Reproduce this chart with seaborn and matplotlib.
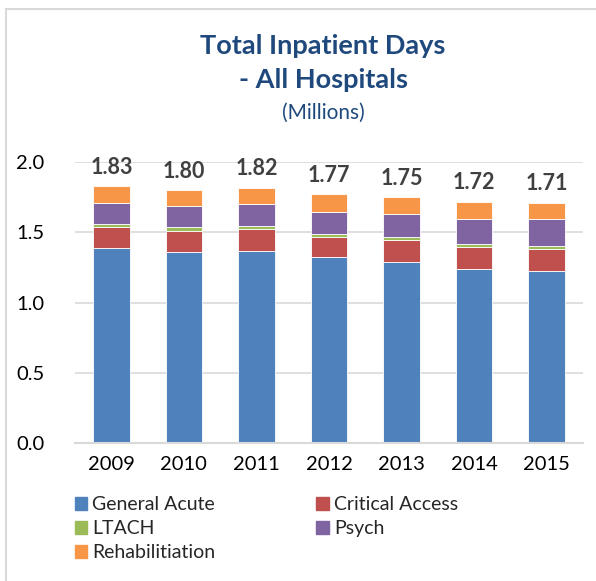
import numpy as np
import pandas as pd
import matplotlib
matplotlib.use('Agg')
import matplotlib.pyplot as plt
import matplotlib.patches as mpatches
import seaborn as sns

# --- Data (millions of inpatient days) ---
years = ['2009', '2010', '2011', '2012', '2013', '2014', '2015']
general_acute = [1.385, 1.357, 1.364, 1.321, 1.290, 1.238, 1.222]
critical_access = [0.155, 0.156, 0.157, 0.147, 0.155, 0.160, 0.156]
ltach = [0.020, 0.025, 0.021, 0.022, 0.019, 0.021, 0.028]
psych = [0.150, 0.147, 0.157, 0.158, 0.164, 0.175, 0.188]
rehab = [0.120, 0.117, 0.118, 0.124, 0.121, 0.124, 0.118]

series_names = ['General Acute', 'Critical Access', 'LTACH', 'Psych', 'Rehabilitiation']
colors = ['#4F81BD', '#C0504D', '#9BBB59', '#8064A2', '#F79646']

# --- Styling ---
sns.set_style('white')
plt.rcParams['font.family'] = ['Lato', 'DejaVu Sans']

df = pd.DataFrame({'Year': years,
                   'General Acute': general_acute,
                   'Critical Access': critical_access,
                   'LTACH': ltach,
                   'Psych': psych,
                   'Rehabilitiation': rehab})

fig = plt.figure(figsize=(5.96, 5.81), dpi=100)
ax = fig.add_axes([0.126, 0.2375, 0.852, 0.4835])

# stacked bars, one layer at a time
bottom = np.zeros(len(years))
for name, col in zip(series_names, colors):
    sns.barplot(data=df, x='Year', y=name, order=years, color=col,
                saturation=1, bottom=bottom, width=0.5, ax=ax,
                edgecolor='white', linewidth=0.6, label=name)
    bottom = bottom + df[name].values

# totals above bars
for i, tot in enumerate(bottom):
    ax.annotate(f'{tot:.2f}', (i, tot), xytext=(0, 6), textcoords='offset points',
                ha='center', va='bottom', fontsize=15.5, fontweight='bold',
                color='#404040', annotation_clip=False)

ax.set_ylim(0, 2.0)
ax.set_xlim(-0.5, 6.5)
ax.set_yticks([0, 0.5, 1.0, 1.5, 2.0])
ax.set_yticklabels(['0.0', '0.5', '1.0', '1.5', '2.0'])
ax.yaxis.grid(True, color='#D9D9D9', linewidth=1.2)
ax.set_axisbelow(True)
ax.set_xlabel('')
ax.set_ylabel('')
ax.tick_params(axis='both', length=0, labelsize=14.5, colors='black')
ax.tick_params(axis='x', pad=9)
ax.tick_params(axis='y', pad=22)
for s in ['top', 'right', 'left']:
    ax.spines[s].set_visible(False)
ax.spines['bottom'].set_color('#D9D9D9')
ax.spines['bottom'].set_linewidth(1.5)

# --- Titles ---
fig.text(0.542, 0.921, 'Total Inpatient Days', ha='center', va='center',
         fontsize=19.5, fontweight='bold', color='#1F497D')
fig.text(0.542, 0.862, '- All Hospitals', ha='center', va='center',
         fontsize=19.5, fontweight='bold', color='#1F497D')
fig.text(0.542, 0.805, '(Millions)', ha='center', va='center',
         fontsize=15, color='#1F497D')

# --- Legend ---
handles = [mpatches.Patch(color=c) for c in colors]
order = [0, 2, 4, 1, 3]
if ax.get_legend():
    ax.get_legend().remove()
fig.legend([handles[i] for i in order], [series_names[i] for i in order],
           ncol=2, loc='upper left', bbox_to_anchor=(0.109, 0.1625),
           frameon=False, fontsize=14, handlelength=0.65, handleheight=0.65,
           handletextpad=0.25, labelspacing=0.35, columnspacing=5.2,
           borderpad=0)

# light frame around the chart
fig.patches.append(mpatches.Rectangle((0.010, -0.5), 1.5, 0.5 + 0.985,
                                      transform=fig.transFigure, fill=False,
                                      edgecolor='#D9D9D9', linewidth=1.5))

fig.savefig('out.png', dpi=100)
